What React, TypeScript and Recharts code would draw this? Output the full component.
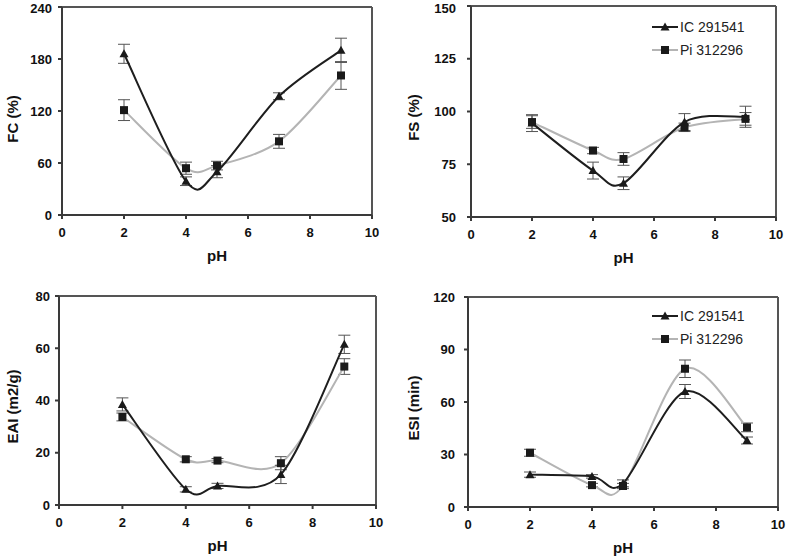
import React from 'react';
import { LineChart, Line, XAxis, YAxis, ErrorBar, ReferenceLine, Label } from 'recharts';

// ---- data ----
const phValues = [2, 4, 5, 7, 9];
const xTicks = [0, 2, 4, 6, 8, 10];

const fcIC = [186, 39, 50, 137, 190];
const fcICErr = [11, 5, 7, 4, 14];
const fcPi = [121, 54, 57, 85, 161];
const fcPiErr = [12, 7, 5, 8, 16];
const fcTicks = [0, 60, 120, 180, 240];

const fsIC = [94.5, 72, 66, 95, 97.5];
const fsICErr = [4, 4, 3, 4, 5];
const fsPi = [95, 81.5, 77.5, 92.5, 96.5];
const fsPiErr = [3, 1.5, 3, 2, 3];
const fsTicks = [50, 75, 100, 125, 150];

const eaiIC = [38.5, 6, 7.3, 11.7, 61.5];
const eaiICErr = [2.5, 1, 1, 3.5, 3.5];
const eaiPi = [33.7, 17.5, 17, 16, 53];
const eaiPiErr = [1.5, 1, 0.8, 2.5, 3];
const eaiTicks = [0, 20, 40, 60, 80];

const esiIC = [18.5, 17.5, 13.5, 66, 38];
const esiICErr = [1.5, 1, 2, 4, 2];
const esiPi = [31, 12.5, 12, 79, 45.5];
const esiPiErr = [2, 1, 1.5, 5, 2.5];
const esiTicks = [0, 30, 60, 90, 120];

const seriesNames = ['IC 291541', 'Pi 312296'];

// Excel-style smoothed line (Catmull-Rom style Bezier)
function excelCurve(context: any) {
  let pts: number[][] = [];
  const k = 1 / 6.5;
  return {
    areaStart() {},
    areaEnd() {},
    lineStart() {
      pts = [];
    },
    point(x: number, y: number) {
      pts.push([+x, +y]);
    },
    lineEnd() {
      if (!pts.length) return;
      context.moveTo(pts[0][0], pts[0][1]);
      for (let i = 0; i < pts.length - 1; i++) {
        const p0 = pts[i - 1] || pts[i];
        const p1 = pts[i];
        const p2 = pts[i + 1];
        const p3 = pts[i + 2] || p2;
        context.bezierCurveTo(
          p1[0] + (p2[0] - p0[0]) * k,
          p1[1] + (p2[1] - p0[1]) * k,
          p2[0] - (p3[0] - p1[0]) * k,
          p2[1] - (p3[1] - p1[1]) * k,
          p2[0],
          p2[1]
        );
      }
    },
  };
}

const FONT = '"Liberation Sans", Arial, sans-serif';
const AXIS = '#3a3a3a';

const Tri = (props: any) => {
  const { cx, cy, index } = props;
  if (cx == null || cy == null) return <g key={'t' + index} />;
  return <path key={'t' + index} d={`M${cx},${cy - 4.5}L${cx + 4.5},${cy + 3.5}L${cx - 4.5},${cy + 3.5}Z`} fill="#1a1a1a" />;
};
const Sq = (props: any) => {
  const { cx, cy, index } = props;
  if (cx == null || cy == null) return <g key={'s' + index} />;
  return <rect key={'s' + index} x={cx - 4} y={cy - 4} width={8} height={8} fill="#1a1a1a" />;
};

type PanelProps = {
  left: number;
  top: number;
  width: number;
  height: number;
  plotL: number;
  plotR: number;
  plotT: number;
  plotB: number;
  ic: number[];
  icErr: number[];
  pi: number[];
  piErr: number[];
  yTicks: number[];
  yTitle: string;
  yTitleX: number;
  yTitleDy: number;
  yTickMargin: number;
  legend: boolean;
};

function Panel(p: PanelProps) {
  const data = phValues.map((x, i) => ({
    x,
    ic: p.ic[i],
    icErr: p.icErr[i],
    pi: p.pi[i],
    piErr: p.piErr[i],
  }));
  const yMin = p.yTicks[0];
  const yMax = p.yTicks[p.yTicks.length - 1];
  const yAxisWidth = p.plotL - p.left;
  const marginTop = p.plotT - p.top;
  const marginRight = p.left + p.width - p.plotR;
  const xAxisHeight = p.top + p.height - p.plotB;
  const tickStyle = { fontFamily: FONT, fontWeight: 700, fontSize: 13, fill: '#111' };

  const legendX = 652 - p.left;
  const legendY = p.top === 0 ? 27 : 316 - p.top;

  return (
    <div style={{ position: 'absolute', left: p.left, top: p.top, width: p.width, height: p.height }}>
      <LineChart
        width={p.width}
        height={p.height}
        data={data}
        margin={{ top: marginTop, right: marginRight, left: 0, bottom: 0 }}
      >
        <ReferenceLine y={yMax} stroke="#555" strokeWidth={2} />
        <ReferenceLine x={10} stroke="#555" strokeWidth={2} />
        <XAxis
          dataKey="x"
          type="number"
          domain={[0, 10]}
          ticks={xTicks}
          height={xAxisHeight}
          stroke={AXIS}
          strokeWidth={2}
          tickSize={4}
          tickMargin={9}
          tick={tickStyle}
          allowDataOverflow
        >
          <Label
            content={(lp: any) => {
              const vb = lp.viewBox;
              return (
                <text
                  x={vb.x + vb.width / 2}
                  y={vb.y + 46}
                  textAnchor="middle"
                  style={{ fontFamily: FONT, fontWeight: 700, fontSize: 15, fill: '#111' }}
                >
                  pH
                </text>
              );
            }}
          />
        </XAxis>
        <YAxis
          type="number"
          domain={[yMin, yMax]}
          ticks={p.yTicks}
          width={yAxisWidth}
          stroke={AXIS}
          strokeWidth={2}
          tickSize={4}
          tickMargin={p.yTickMargin}
          tick={tickStyle}
          allowDataOverflow
        >
          <Label
            content={(lp: any) => {
              const vb = lp.viewBox;
              const cx = p.yTitleX - p.left;
              const cy = vb.y + vb.height / 2 + p.yTitleDy;
              return (
                <text
                  x={cx}
                  y={cy}
                  textAnchor="middle"
                  dominantBaseline="central"
                  transform={`rotate(-90 ${cx} ${cy})`}
                  style={{ fontFamily: FONT, fontWeight: 700, fontSize: 15, fill: '#111' }}
                >
                  {p.yTitle}
                </text>
              );
            }}
          />
        </YAxis>
        <Line
          dataKey="pi"
          type={excelCurve as any}
          stroke="#b4b4b4"
          strokeWidth={2}
          dot={Sq}
          activeDot={false}
          isAnimationActive={false}
        >
          <ErrorBar dataKey="piErr" width={6} stroke="#555" strokeWidth={1} direction="y" />
        </Line>
        <Line
          dataKey="ic"
          type={excelCurve as any}
          stroke="#1e1e1e"
          strokeWidth={2}
          dot={Tri}
          activeDot={false}
          isAnimationActive={false}
        >
          <ErrorBar dataKey="icErr" width={6} stroke="#555" strokeWidth={1} direction="y" />
        </Line>
      </LineChart>
      {p.legend && (
        <svg
          style={{ position: 'absolute', left: 0, top: 0, pointerEvents: 'none' }}
          width={p.width}
          height={p.height}
        >
          <line x1={legendX} x2={legendX + 26} y1={legendY} y2={legendY} stroke="#1e1e1e" strokeWidth={2} />
          <path
            d={`M${legendX + 13},${legendY - 4.5}L${legendX + 17.5},${legendY + 3.5}L${legendX + 8.5},${legendY + 3.5}Z`}
            fill="#1a1a1a"
          />
          <text x={legendX + 28} y={legendY} dominantBaseline="central" style={{ fontFamily: FONT, fontSize: 14, fill: '#222' }}>
            {seriesNames[0]}
          </text>
          <line x1={legendX} x2={legendX + 26} y1={legendY + 23} y2={legendY + 23} stroke="#b4b4b4" strokeWidth={2} />
          <rect x={legendX + 9} y={legendY + 19} width={8} height={8} fill="#1a1a1a" />
          <text x={legendX + 28} y={legendY + 23} dominantBaseline="central" style={{ fontFamily: FONT, fontSize: 14, fill: '#222' }}>
            {seriesNames[1]}
          </text>
        </svg>
      )}
    </div>
  );
}

export default function App() {
  return (
    <div style={{ position: 'absolute', left: 0, top: 0, width: 787, height: 559, background: '#fff', overflow: 'hidden' }}>
      <Panel
        left={0} top={0} width={390} height={275}
        plotL={62} plotR={372} plotT={7} plotB={215}
        ic={fcIC} icErr={fcICErr} pi={fcPi} piErr={fcPiErr}
        yTicks={fcTicks} yTitle="FC (%)" yTitleX={12} yTitleDy={8} yTickMargin={6}
        legend={false}
      />
      <Panel
        left={400} top={0} width={387} height={275}
        plotL={471} plotR={776} plotT={6} plotB={217}
        ic={fsIC} icErr={fsICErr} pi={fsPi} piErr={fsPiErr}
        yTicks={fsTicks} yTitle="FS (%)" yTitleX={413} yTitleDy={6} yTickMargin={11}
        legend={true}
      />
      <Panel
        left={0} top={280} width={390} height={279}
        plotL={59} plotR={376} plotT={296} plotB={505}
        ic={eaiIC} icErr={eaiICErr} pi={eaiPi} piErr={eaiPiErr}
        yTicks={eaiTicks} yTitle="EAI (m2/g)" yTitleX={12} yTitleDy={6} yTickMargin={5}
        legend={false}
      />
      <Panel
        left={400} top={280} width={387} height={279}
        plotL={468} plotR={778} plotT={297} plotB={507}
        ic={esiIC} icErr={esiICErr} pi={esiPi} piErr={esiPiErr}
        yTicks={esiTicks} yTitle="ESI (min)" yTitleX={413} yTitleDy={6} yTickMargin={9}
        legend={true}
      />
    </div>
  );
}
